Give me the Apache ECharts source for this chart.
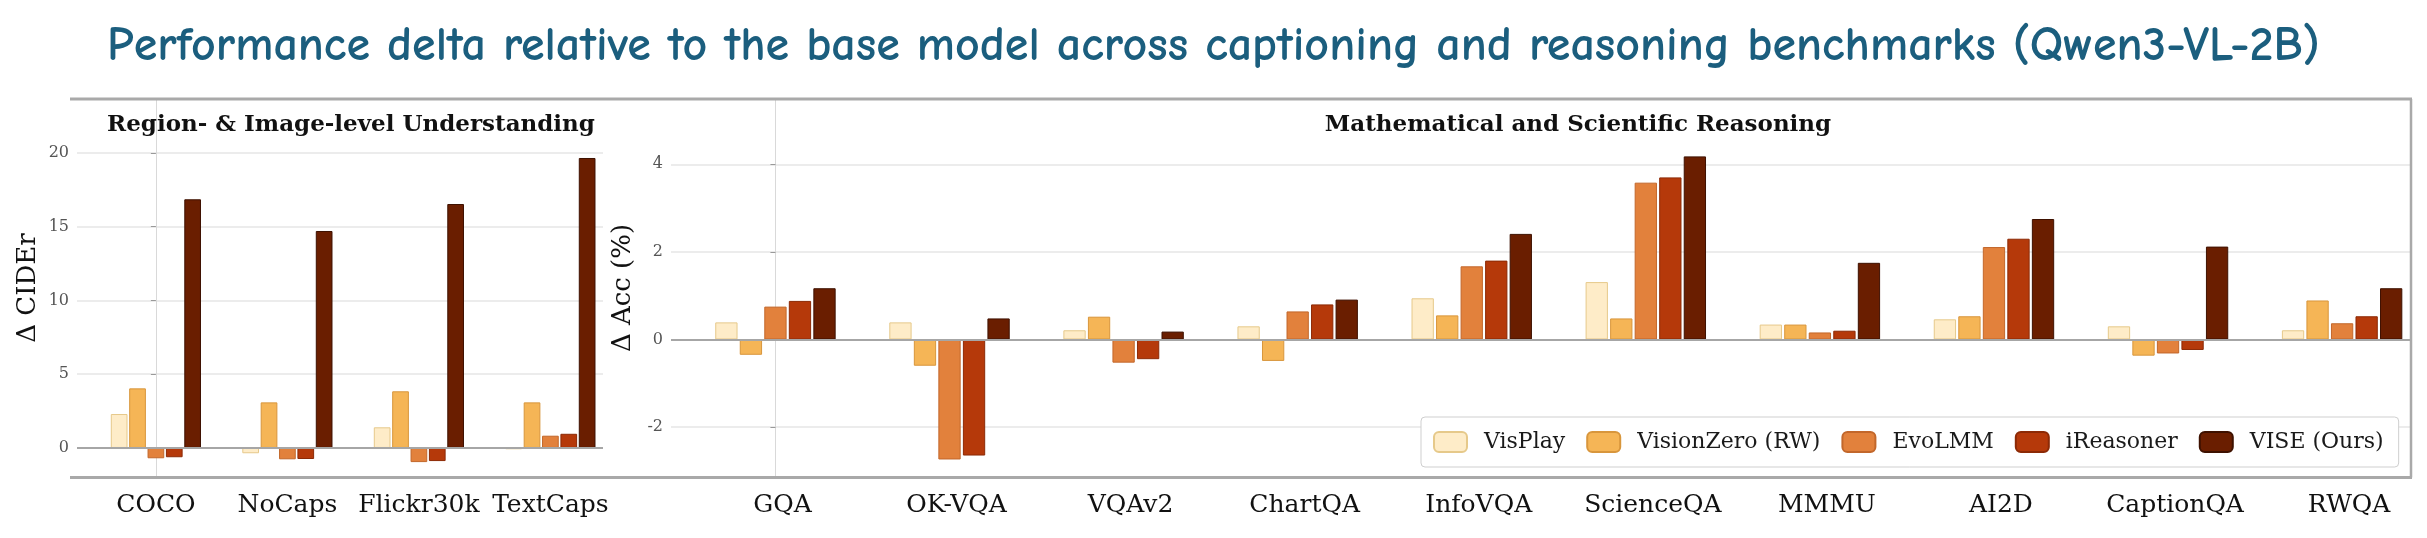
<!DOCTYPE html>
<html>
<head>
<meta charset="utf-8">
<script src="https://cdn.jsdelivr.net/npm/echarts@6/dist/echarts.min.js"></script>
<style>
  html, body { margin: 0; padding: 0; background: #fff; }
  #chart { width: 2427px; height: 538px; }
</style>
</head>
<body>
<div id="chart"></div>
<script>
const captionBenchmarks = ['COCO', 'NoCaps', 'Flickr30k', 'TextCaps']
const reasoningBenchmarks = ['GQA', 'OK-VQA', 'VQAv2', 'ChartQA', 'InfoVQA', 'ScienceQA', 'MMMU', 'AI2D', 'CaptionQA', 'RWQA']
const methods = ['VisPlay', 'VisionZero (RW)', 'EvoLMM', 'iReasoner', 'VISE (Ours)']

// Δ CIDEr, one list per method (order of captionBenchmarks)
const capVisPlay = [2.3, -0.36, 1.4, -0.09]
const capVisionZero = [4.04, 3.09, 3.84, 3.09]
const capEvoLMM = [-0.70, -0.77, -0.96, 0.83]
const capIReasoner = [-0.63, -0.75, -0.89, 0.96]
const capVISE = [16.86, 14.71, 16.54, 19.66]

// Δ Acc (%), one list per method (order of reasoningBenchmarks)
const rsnVisPlay = [0.39, 0.39, 0.21, 0.30, 0.94, 1.31, 0.34, 0.46, 0.30, 0.21]
const rsnVisionZero = [-0.35, -0.60, 0.52, -0.49, 0.55, 0.48, 0.34, 0.53, -0.37, 0.89]
const rsnEvoLMM = [0.75, -2.74, -0.53, 0.64, 1.67, 3.58, 0.16, 2.11, -0.32, 0.37]
const rsnIReasoner = [0.88, -2.65, -0.45, 0.80, 1.80, 3.70, 0.20, 2.30, -0.24, 0.53]
const rsnVISE = [1.17, 0.48, 0.18, 0.91, 2.41, 4.18, 1.75, 2.75, 2.12, 1.17]

const fills = ['#feecc8', '#f5b556', '#e2813c', '#b5390a', '#6a1e00']
const borders = ['#e6c98a', '#d8963c', '#c2672b', '#8c2a06', '#3e1100']

const capData = [capVisPlay, capVisionZero, capEvoLMM, capIReasoner, capVISE]
const rsnData = [rsnVisPlay, rsnVisionZero, rsnEvoLMM, rsnIReasoner, rsnVISE]

const serif = "'DejaVu Serif', 'Liberation Serif', serif"
const gridColor = '#e6e6e6'

function zeroLine() {
  return {
    silent: true,
    symbol: ['none', 'none'],
    label: { show: false },
    lineStyle: { color: '#a6a6a6', width: 2, type: 'solid' },
    data: [{ yAxis: 0 }]
  }
}

function barSeries(list, axis, width) {
  return list.map((vals, k) => ({
    type: 'bar',
    name: methods[k],
    xAxisIndex: axis,
    yAxisIndex: axis,
    barWidth: width,
    barGap: '10%',
    data: vals.map((v, i) => [i, v]),
    itemStyle: { color: fills[k], borderColor: borders[k], borderWidth: 1 },
    markLine: k === 0 ? zeroLine() : undefined
  }))
}

function yAxisBase(min, max, name, gap) {
  return {
    type: 'value',
    min, max,
    splitNumber: 5,
    name,
    nameLocation: 'middle',
    nameGap: gap,
    nameTextStyle: { fontFamily: serif, fontSize: 26, color: '#111' },
    axisLine: { show: true, lineStyle: { color: '#d9d9d9', width: 1 } },
    axisTick: { show: true, length: 5, lineStyle: { color: '#999' } },
    axisLabel: { showMinLabel: false, showMaxLabel: false, margin: 8, fontFamily: serif, fontSize: 16, color: '#555' },
    splitLine: { lineStyle: { color: gridColor, width: 1.5 } }
  }
}

function xAxisBase(grid, min, max, names, shift) {
  return {
    type: 'value',
    gridIndex: grid,
    min, max,
    axisLine: { show: false },
    axisTick: { show: false },
    splitLine: { show: false },
    axisLabel: {
      customValues: names.map((_, i) => i),
      formatter: v => names[Math.round(v)] || '',
      margin: 16,
      padding: [0, 0, 0, shift],
      fontFamily: serif,
      fontSize: 25,
      color: '#111'
    }
  }
}

const chart = echarts.init(document.getElementById('chart'))

chart.setOption({
  animation: false,
  backgroundColor: '#fff',
  title: [
    {
      text: 'Performance delta relative to the base model across captioning and reasoning benchmarks (Qwen3-VL-2B)',
      left: 'center',
      top: 17,
      textStyle: { fontFamily: "'Comic Sans MS', 'Comic Neue', 'DejaVu Sans', sans-serif", fontSize: 48, fontWeight: 'bold', color: '#1b5e7e' }
    },
    {
      text: 'Region- & Image-level Understanding',
      left: 346, top: 109, textAlign: 'center',
      textStyle: { fontFamily: serif, fontSize: 23, fontWeight: 'bold', color: '#111' }
    },
    {
      text: 'Mathematical and Scientific Reasoning',
      left: 1573, top: 109, textAlign: 'center',
      textStyle: { fontFamily: serif, fontSize: 23, fontWeight: 'bold', color: '#111' }
    }
  ],
  legend: {
    data: methods,
    left: 1421,
    top: 417,
    orient: 'horizontal',
    padding: [14, 15, 14, 12],
    itemWidth: 33,
    itemHeight: 20,
    itemGap: 21,
    backgroundColor: '#fff',
    borderColor: '#cfcfcf',
    borderWidth: 1,
    borderRadius: 4,
    textStyle: { fontFamily: serif, fontSize: 22, color: '#1a1a1a', padding: [0, 0, 0, 12] }
  },
  grid: [
    { left: 77, top: 99, width: 526, height: 378 },
    { left: 671, top: 99, width: 1739, height: 378 }
  ],
  xAxis: [
    xAxisBase(0, -0.6, 3.4, captionBenchmarks, 0),
    xAxisBase(1, -0.6, 9.39, reasoningBenchmarks, 14)
  ],
  yAxis: [
    Object.assign(yAxisBase(-1.97, 23.66, 'Δ CIDEr', 36), { gridIndex: 0 }),
    Object.assign(yAxisBase(-3.14, 5.49, 'Δ Acc (%)', 31), { gridIndex: 1 })
  ],
  graphic: [
    { type: 'line', shape: { x1: 70, y1: 99, x2: 2412, y2: 99 }, style: { stroke: '#a9a9a9', lineWidth: 3 }, z: 100 },
    { type: 'line', shape: { x1: 70, y1: 477.5, x2: 2412, y2: 477.5 }, style: { stroke: '#a9a9a9', lineWidth: 3 }, z: 100 },
    { type: 'line', shape: { x1: 2411, y1: 99, x2: 2411, y2: 477.5 }, style: { stroke: '#a9a9a9', lineWidth: 2.5 }, z: 100 }
  ],
  series: [
    ...barSeries(capData, 0, 16.7),
    ...barSeries(rsnData, 1, 22.3)
  ]
})
</script>
</body>
</html>
